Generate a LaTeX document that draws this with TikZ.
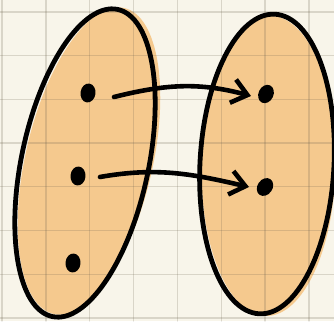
\documentclass[tikz,border=0pt]{standalone}
\usetikzlibrary{shapes.geometric,arrows.meta}
\definecolor{carta}{HTML}{F8F5EA}
\definecolor{arancio}{HTML}{F5C98E}
\definecolor{righe}{HTML}{6E6450}
\begin{document}
\begin{tikzpicture}[x=1pt, y=1pt, line cap=round]
	% Stili per insiemi, punti e frecce
	\tikzset{
		insieme/.style={ellipse, draw, line width=4.8pt, inner sep=0pt},
		riempi/.style={ellipse, fill=arancio, inner sep=0pt},
		punto/.style={ellipse, fill, inner sep=0pt, minimum width=15pt, minimum height=19pt},
		freccia/.style={line width=4.6pt, -{Straight Barb[length=15pt, width=24pt]}},
		griglia/.style={draw=righe, opacity=0.22, line width=1.3pt}
	}
	
	% Foglio a quadretti
	\fill[carta] (0,0) rectangle (334,321);
	\useasboundingbox (0,0) rectangle (334,321);
	
	% Riempimento arancione (leggermente spostato)
	\node[riempi, minimum width=127pt, minimum height=314pt, rotate=-13] (RA) at (89,160) {};
	\node[riempi, minimum width=134pt, minimum height=300pt, rotate=-1] (RB) at (268.5,155) {};
	
	\foreach \i in {0,...,7} {
		\draw[griglia] ({2+43.85*\i},0) -- ++(0,321);
		\draw[griglia] (0,{309-43.7*\i}) -- ++(334,0);
	}
	
	% Insieme di partenza
	\node[insieme, minimum width=127pt, minimum height=314pt, rotate=-12] (A) at (85,158) {};
	\node[punto, rotate=-8] (a1) at (88,228) {};
	\node[punto, rotate=-5] (a2) at (78,145) {};
	\node[punto, rotate=-5] (a3) at (73,58) {};
	
	% Insieme di arrivo
	\node[insieme, minimum width=134pt, minimum height=300pt, rotate=-3] (B) at (267,157) {};
	\node[punto, rotate=-25] (b1) at (266,227) {};
	\node[punto, rotate=-35] (b2) at (265,134) {};
	
	\draw[freccia] ([xshift=26pt, yshift=-4pt]a1.center) to[out=14, in=165] ([xshift=-15pt, yshift=-2pt]b1.center);
	\draw[freccia] ([xshift=22pt, yshift=-1pt]a2.center) to[out=10, in=167] ([xshift=-16pt, yshift=0pt]b2.center);
	
\end{tikzpicture}
\end{document}
